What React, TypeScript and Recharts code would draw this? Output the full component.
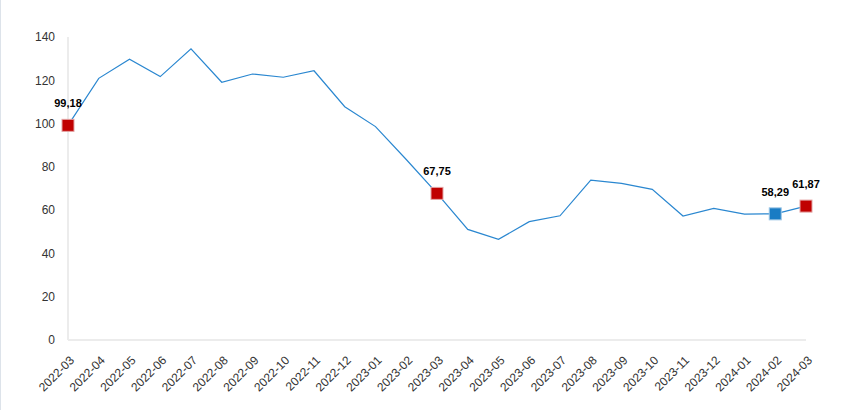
import { LineChart, Line, XAxis, YAxis } from 'recharts'

const months = [
  '2022-03', '2022-04', '2022-05', '2022-06', '2022-07', '2022-08', '2022-09',
  '2022-10', '2022-11', '2022-12', '2023-01', '2023-02', '2023-03', '2023-04',
  '2023-05', '2023-06', '2023-07', '2023-08', '2023-09', '2023-10', '2023-11',
  '2023-12', '2024-01', '2024-02', '2024-03',
]

const values = [
  99.18, 120.9, 129.7, 121.7, 134.5, 119.1, 122.9,
  121.4, 124.4, 107.8, 98.6, 83.4, 67.75, 51.1,
  46.5, 54.7, 57.4, 73.9, 72.4, 69.6, 57.3,
  60.8, 58.2, 58.29, 61.87,
]

const redMarks = ['2022-03', '2023-03', '2024-03']
const blueMarks = ['2024-02']

const yTicks = [0, 20, 40, 60, 80, 100, 120, 140]

const data = months.map((month, i) => ({ month, value: values[i] }))

const LINE = '#2a87d0'
const RED = '#c00000'
const BLUE = '#1a7cc4'
const FONT = '"Liberation Sans", Arial, sans-serif'

function formatComma(v: number) {
  return v.toFixed(2).replace('.', ',')
}

function Marker(props: any) {
  const { cx, cy, payload, index } = props
  const isRed = redMarks.includes(payload.month)
  const isBlue = blueMarks.includes(payload.month)
  if (!isRed && !isBlue) return <g key={`dot-${index}`} />
  const fill = isRed ? RED : BLUE
  const stroke = isRed ? '#e3a3a3' : '#9cc6e6'
  return (
    <g key={`dot-${index}`}>
      <rect x={cx - 6} y={cy - 6} width={12} height={12} fill={fill} stroke={stroke} strokeWidth={1} />
      <text
        x={cx}
        y={cy - 18}
        textAnchor="middle"
        fontFamily={FONT}
        fontWeight="bold"
        fontSize={11}
        fill="#000"
      >
        {formatComma(payload.value)}
      </text>
    </g>
  )
}

function MonthTick(props: any) {
  const { x, y, payload } = props
  return (
    <g transform={`translate(${x + 7},${y + 21})`}>
      <text
        textAnchor="end"
        transform="rotate(-45)"
        fontFamily={FONT}
        fontSize={12}
        fill="#333"
      >
        {payload.value}
      </text>
    </g>
  )
}

export default function App() {
  return (
    <div style={{ position: 'absolute', left: 0, top: 0, width: 842, height: 410, background: '#fff' }}>
      <style>{'body{margin:0}'}</style>
      <div style={{ position: 'absolute', left: 0, top: 0, width: 1, height: 410, background: '#dde3ea' }} />
      <LineChart width={842} height={410} data={data} margin={{ top: 37, right: 36, bottom: 0, left: 0 }}>
        <XAxis
          dataKey="month"
          interval={0}
          height={70}
          tickLine={false}
          tickSize={0}
          tickMargin={0}
          axisLine={{ stroke: '#ececec', strokeWidth: 2 }}
          tick={<MonthTick />}
        />
        <YAxis
          width={68}
          domain={[0, 140]}
          ticks={yTicks}
          tickLine={false}
          tickSize={0}
          tickMargin={13}
          axisLine={{ stroke: '#ececec', strokeWidth: 2 }}
          tick={{ fill: '#333', fontSize: 12, fontFamily: FONT }}
        />
        <Line
          type="linear"
          dataKey="value"
          stroke={LINE}
          strokeWidth={1.2}
          dot={Marker}
          activeDot={false}
          isAnimationActive={false}
        />
      </LineChart>
    </div>
  )
}
